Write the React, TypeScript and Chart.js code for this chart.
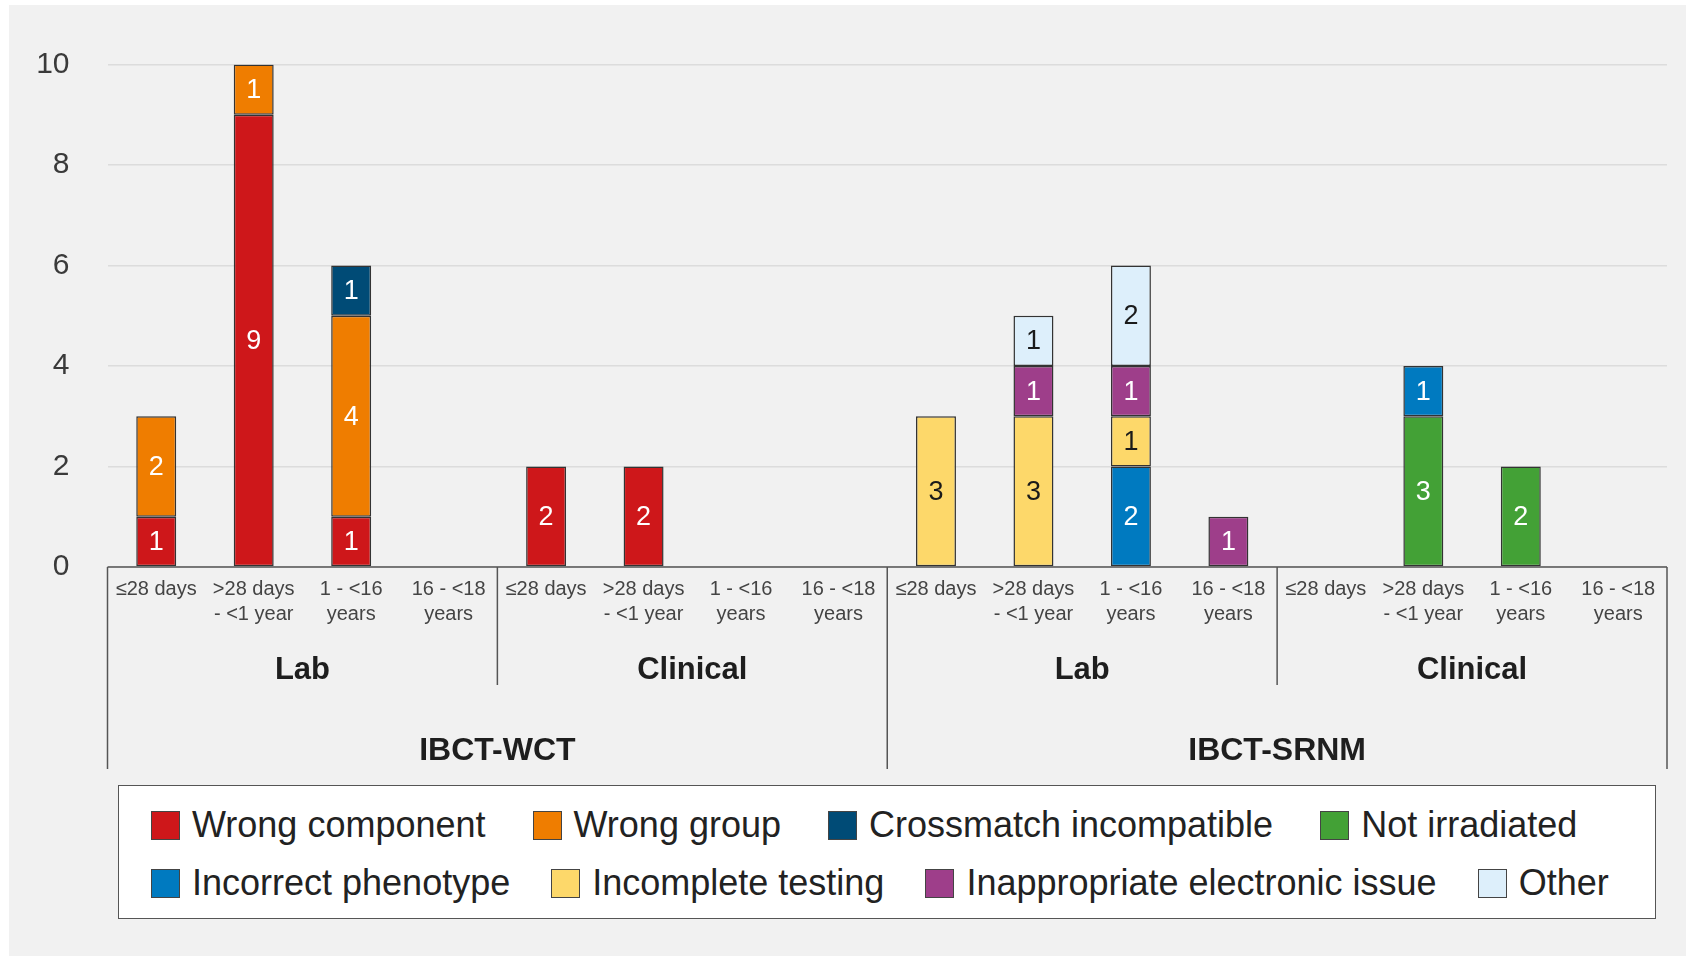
import React, { useEffect, useRef } from "react";
import { Chart, registerables } from "chart.js";

Chart.register(...registerables);

// ---------- data ----------
const AGE_LABELS: string[][] = [["≤28 days"], [">28 days", "- <1 year"], ["1 - <16", "years"], ["16 - <18", "years"]];
const SUBGROUPS = ["Lab", "Clinical", "Lab", "Clinical"];
const GROUPS = ["IBCT-WCT", "IBCT-SRNM"];
const CATEGORIES: string[][] = SUBGROUPS.flatMap(() => AGE_LABELS);

const SERIES_NAMES = [
  "Wrong component",
  "Wrong group",
  "Crossmatch incompatible",
  "Not irradiated",
  "Incorrect phenotype",
  "Incomplete testing",
  "Inappropriate electronic issue",
  "Other",
];

const WRONG_COMPONENT = [1, 9, 1, null, 2, 2, null, null, null, null, null, null, null, null, null, null];
const WRONG_GROUP = [2, 1, 4, null, null, null, null, null, null, null, null, null, null, null, null, null];
const CROSSMATCH_INCOMPATIBLE = [null, null, 1, null, null, null, null, null, null, null, null, null, null, null, null, null];
const NOT_IRRADIATED = [null, null, null, null, null, null, null, null, null, null, null, null, null, 3, 2, null];
const INCORRECT_PHENOTYPE = [null, null, null, null, null, null, null, null, null, null, 2, null, null, 1, null, null];
const INCOMPLETE_TESTING = [null, null, null, null, null, null, null, null, 3, 3, 1, null, null, null, null, null];
const INAPPROPRIATE_ELECTRONIC = [null, null, null, null, null, null, null, null, null, 1, 1, 1, null, null, null, null];
const OTHER = [null, null, null, null, null, null, null, null, null, 1, 2, null, null, null, null, null];

const SERIES_VALUES = [
  WRONG_COMPONENT,
  WRONG_GROUP,
  CROSSMATCH_INCOMPATIBLE,
  NOT_IRRADIATED,
  INCORRECT_PHENOTYPE,
  INCOMPLETE_TESTING,
  INAPPROPRIATE_ELECTRONIC,
  OTHER,
];

const Y_TICKS = [0, 2, 4, 6, 8, 10];

// ---------- styles ----------
const COLORS = ["#CE171A", "#EF7D00", "#004B76", "#43A136", "#007AC0", "#FDD86A", "#9E3E8A", "#DDEFFB"];
const LABEL_COLORS = ["#fff", "#fff", "#fff", "#fff", "#fff", "#1a1a1a", "#fff", "#1a1a1a"];
const FONT = "'Liberation Sans', Arial, sans-serif";
const LINE = "#555";

const dataLabelPlugin = {
  id: "dataLabels",
  afterDatasetsDraw(chart: any) {
    const ctx = chart.ctx;
    ctx.save();
    ctx.font = `27px ${FONT}`;
    ctx.textAlign = "center";
    ctx.textBaseline = "middle";
    chart.data.datasets.forEach((ds: any, di: number) => {
      const meta = chart.getDatasetMeta(di);
      meta.data.forEach((el: any, i: number) => {
        const v = ds.data[i];
        if (v == null || v === 0) return;
        ctx.fillStyle = LABEL_COLORS[di];
        ctx.fillText(String(v), el.x, (el.y + el.base) / 2 + 1);
      });
    });
    ctx.restore();
  },
};

const groupAxisPlugin = {
  id: "groupAxis",
  afterDraw(chart: any) {
    const { ctx, chartArea } = chart;
    const x = chart.scales.x;
    const half = (x.getPixelForValue(1) - x.getPixelForValue(0)) / 2;
    const edge = (i: number) => x.getPixelForValue(i) - half;
    const n = CATEGORIES.length;
    const bottom = chartArea.bottom;
    const innerEnd = bottom + 118;
    const outerEnd = bottom + 202;
    const perSub = AGE_LABELS.length;
    const perGroup = perSub * (SUBGROUPS.length / GROUPS.length);
    const rightEdge = edge(n - 1) + 2 * half;

    ctx.save();
    ctx.strokeStyle = LINE;
    ctx.lineWidth = 1.5;
    // baseline
    ctx.beginPath();
    ctx.moveTo(edge(0), bottom);
    ctx.lineTo(rightEdge, bottom);
    ctx.stroke();
    // separators
    for (let s = 0; s <= SUBGROUPS.length; s++) {
      const px = s === SUBGROUPS.length ? rightEdge : edge(s * perSub);
      const isOuter = (s * perSub) % perGroup === 0;
      ctx.beginPath();
      ctx.moveTo(px, bottom);
      ctx.lineTo(px, isOuter ? outerEnd : innerEnd);
      ctx.stroke();
    }
    // sub group labels
    ctx.fillStyle = "#1e1e1e";
    ctx.textAlign = "center";
    ctx.textBaseline = "middle";
    ctx.font = `bold 31px ${FONT}`;
    SUBGROUPS.forEach((lab, s) => {
      const cx = edge(s * perSub) + perSub * half;
      ctx.fillText(lab, cx, bottom + 103);
    });
    ctx.font = `bold 32px ${FONT}`;
    GROUPS.forEach((lab, g) => {
      const cx = edge(g * perGroup) + perGroup * half;
      ctx.fillText(lab, cx, bottom + 184);
    });
    ctx.restore();
  },
};

export default function App() {
  const ref = useRef<HTMLCanvasElement | null>(null);

  useEffect(() => {
    if (!ref.current) return;
    const chart = new Chart(ref.current, {
      type: "bar",
      data: {
        labels: CATEGORIES,
        datasets: SERIES_NAMES.map((name, i) => ({
          label: name,
          data: SERIES_VALUES[i],
          backgroundColor: COLORS[i],
          borderColor: "#333",
          borderWidth: 1.5,
          borderSkipped: false,
          barPercentage: 0.41,
          categoryPercentage: 1,
        })),
      },
      options: {
        responsive: false,
        animation: false,
        devicePixelRatio: 1,
        layout: { padding: { top: 64.5, left: 7.5, right: 19, bottom: 0 } },
        plugins: { legend: { display: false }, tooltip: { enabled: false } },
        scales: {
          x: {
            stacked: true,
            grid: { display: false, drawTicks: false },
            border: { display: false },
            ticks: {
              color: "#444",
              font: { family: FONT, size: 20, lineHeight: 1.25 },
              padding: 10,
              maxRotation: 0,
              autoSkip: false,
            },
            afterFit: (scale: any) => {
              scale.height = 389;
            },
          },
          y: {
            stacked: true,
            min: 0,
            max: 10,
            afterBuildTicks: (scale: any) => {
              scale.ticks = Y_TICKS.map((v) => ({ value: v }));
            },
            grid: { color: "#dcdcdc", lineWidth: 1.5, drawTicks: false },
            border: { display: false },
            ticks: {
              color: "#3a3a3a",
              font: { family: FONT, size: 30 },
              padding: 38,
            },
            afterFit: (scale: any) => {
              scale.width = 100;
            },
          },
        },
      },
      plugins: [dataLabelPlugin, groupAxisPlugin],
    });
    return () => chart.destroy();
  }, []);

  const legendRow = (start: number, end: number, gap: number) => (
    <div style={{ display: "flex", alignItems: "center", gap, height: 40 }}>
      {SERIES_NAMES.slice(start, end).map((name, k) => (
        <div key={name} style={{ display: "flex", alignItems: "center", gap: 12 }}>
          <span
            style={{
              width: 27,
              height: 27,
              background: COLORS[start + k],
              border: "1px solid #444",
              display: "inline-block",
            }}
          />
          <span style={{ fontFamily: FONT, fontSize: 36, color: "#222", lineHeight: "40px", whiteSpace: "nowrap" }}>
            {name}
          </span>
        </div>
      ))}
    </div>
  );

  return (
    <div style={{ position: "fixed", left: 0, top: 0, width: 1686, height: 956, background: "#fff", overflow: "hidden" }}>
      <div style={{ position: "absolute", left: 9, top: 5, right: 0, bottom: 0, background: "#f1f1f1" }} />
      <canvas ref={ref} width={1686} height={956} style={{ position: "absolute", left: 0, top: 0, width: 1686, height: 956 }} />
      <div
        style={{
          position: "absolute",
          left: 118,
          top: 785,
          width: 1538,
          height: 134,
          boxSizing: "border-box",
          background: "#fff",
          border: "1.5px solid #555",
          paddingLeft: 32,
          paddingTop: 19,
          display: "flex",
          flexDirection: "column",
          gap: 18,
        }}
      >
        {legendRow(0, 4, 47)}
        {legendRow(4, 8, 41)}
      </div>
    </div>
  );
}
